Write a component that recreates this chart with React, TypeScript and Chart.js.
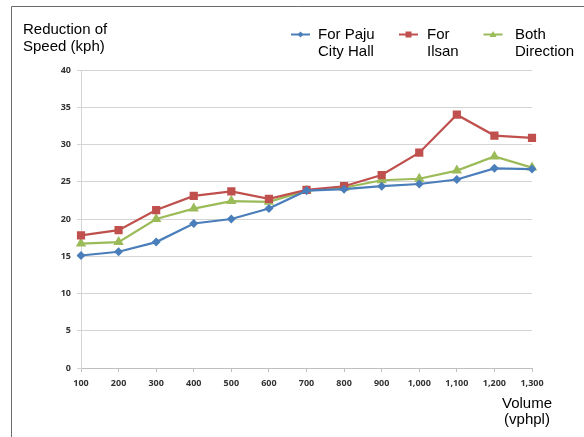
import React, { useEffect, useRef } from "react";
import { Chart, registerables } from "chart.js";

Chart.register(...registerables);

const volumes = ["100", "200", "300", "400", "500", "600", "700", "800", "900", "1,000", "1,100", "1,200", "1,300"];
const forPaju = [15.1, 15.6, 16.9, 19.4, 20.0, 21.4, 23.8, 24.0, 24.4, 24.7, 25.3, 26.8, 26.7];
const forIlsan = [17.8, 18.5, 21.2, 23.1, 23.7, 22.7, 23.9, 24.4, 25.9, 28.9, 34.0, 31.2, 30.9];
const bothDirection = [16.7, 16.9, 20.0, 21.4, 22.4, 22.3, 23.8, 24.2, 25.2, 25.4, 26.5, 28.4, 26.9];
const seriesNames = [["For Paju", "City Hall"], ["For", "Ilsan"], ["Both", "Direction"]];
const yTitle = ["Reduction of", "Speed (kph)"];
const xTitle = ["Volume", "(vphpl)"];

const BLUE = "#4a7ebb";
const RED = "#c0504d";
const GREEN = "#9bbb59";
const TEXT_FONT = "15px 'Liberation Sans', Arial, sans-serif";

const decorPlugin = {
  id: "decor",
  beforeDraw(chart: any) {
    const ctx = chart.ctx;
    ctx.save();
    ctx.strokeStyle = "#6b6b6b";
    ctx.lineWidth = 1;
    ctx.beginPath();
    ctx.moveTo(11.5, 437);
    ctx.lineTo(11.5, 6.5);
    ctx.lineTo(584, 6.5);
    ctx.stroke();
    ctx.restore();
  },
  afterDraw(chart: any) {
    const ctx = chart.ctx;
    ctx.save();
    ctx.font = TEXT_FONT;
    ctx.fillStyle = "#000";
    ctx.textBaseline = "middle";
    ctx.textAlign = "left";
    ctx.fillText(yTitle[0], 23, 30);
    ctx.fillText(yTitle[1], 23, 46.5);
    ctx.textAlign = "center";
    ctx.fillText(xTitle[0], 527, 404);
    ctx.fillText(xTitle[1], 527, 420);

    const markerCenters = [300.5, 408.5, 493];
    const textX = [318, 427, 515];
    chart.data.datasets.forEach((ds: any, i: number) => {
      const cx = markerCenters[i];
      const cy = 34.5;
      ctx.strokeStyle = ds.borderColor;
      ctx.lineWidth = 2;
      ctx.beginPath();
      ctx.moveTo(cx - 9.5, cy);
      ctx.lineTo(cx + 9.5, cy);
      ctx.stroke();
      ctx.fillStyle = ds.backgroundColor;
      ctx.beginPath();
      if (ds.pointStyle === "rectRot") {
        ctx.moveTo(cx, cy - 3);
        ctx.lineTo(cx + 3, cy);
        ctx.lineTo(cx, cy + 3);
        ctx.lineTo(cx - 3, cy);
      } else if (ds.pointStyle === "rect") {
        ctx.rect(cx - 3, cy - 3, 6, 6);
      } else {
        ctx.moveTo(cx, cy - 3.5);
        ctx.lineTo(cx + 3.5, cy + 2.5);
        ctx.lineTo(cx - 3.5, cy + 2.5);
      }
      ctx.closePath();
      ctx.fill();
      ctx.fillStyle = "#000";
      ctx.textAlign = "left";
      ctx.font = TEXT_FONT;
      ctx.fillText(seriesNames[i][0], textX[i], 35);
      ctx.fillText(seriesNames[i][1], textX[i], 51.5);
    });
    ctx.restore();
  },
};

export default function App() {
  const ref = useRef<HTMLCanvasElement | null>(null);
  useEffect(() => {
    if (!ref.current) return;
    const tickFont = { family: "'Open Sans', sans-serif", size: 9, weight: "bold" as const };
    const chart = new Chart(ref.current, {
      type: "line",
      data: {
        labels: volumes,
        datasets: [
          {
            label: seriesNames[0].join(" "),
            data: forPaju,
            borderColor: BLUE,
            backgroundColor: BLUE,
            pointStyle: "rectRot",
            pointRadius: 4.5,
            pointBorderWidth: 0,
            borderWidth: 2.2,
            tension: 0,
          },
          {
            label: seriesNames[1].join(" "),
            data: forIlsan,
            borderColor: RED,
            backgroundColor: RED,
            pointStyle: "rect",
            pointRadius: 5.8,
            pointBorderWidth: 0,
            borderWidth: 2.2,
            tension: 0,
          },
          {
            label: seriesNames[2].join(" "),
            data: bothDirection,
            borderColor: GREEN,
            backgroundColor: GREEN,
            pointStyle: "triangle",
            pointRadius: 6,
            pointBorderWidth: 0,
            borderWidth: 2.2,
            tension: 0,
          },
        ],
      },
      options: {
        responsive: false,
        animation: false,
        devicePixelRatio: 1,
        layout: { padding: { top: 70, right: 52, left: 0, bottom: 0 } },
        plugins: {
          legend: { display: false },
          tooltip: { enabled: false },
        },
        scales: {
          x: {
            type: "category",
            offset: false,
            grid: {
              display: true,
              drawOnChartArea: false,
              drawTicks: true,
              tickLength: 4,
              color: "#bfbfbf",
            },
            border: { display: true, color: "#bfbfbf" },
            ticks: {
              color: "#333333",
              font: tickFont,
              maxRotation: 0,
              autoSkip: false,
              padding: 6,
            },
            afterFit(scale: any) {
              scale.height = 69;
            },
          },
          y: {
            min: 0,
            max: 40,
            ticks: {
              stepSize: 5,
              color: "#333333",
              font: tickFont,
              padding: 6,
            },
            grid: {
              color: "#d4d4d4",
              tickLength: 4,
              drawTicks: true,
            },
            border: { display: true, color: "#d4d4d4" },
            afterFit(scale: any) {
              scale.width = 81;
            },
          },
        },
      },
      plugins: [decorPlugin],
    });
    return () => chart.destroy();
  }, []);
  return (
    <div style={{ position: "absolute", left: 0, top: 0, width: 584, height: 437, background: "#fff" }}>
      <canvas ref={ref} width={584} height={437} style={{ display: "block" }} />
    </div>
  );
}
